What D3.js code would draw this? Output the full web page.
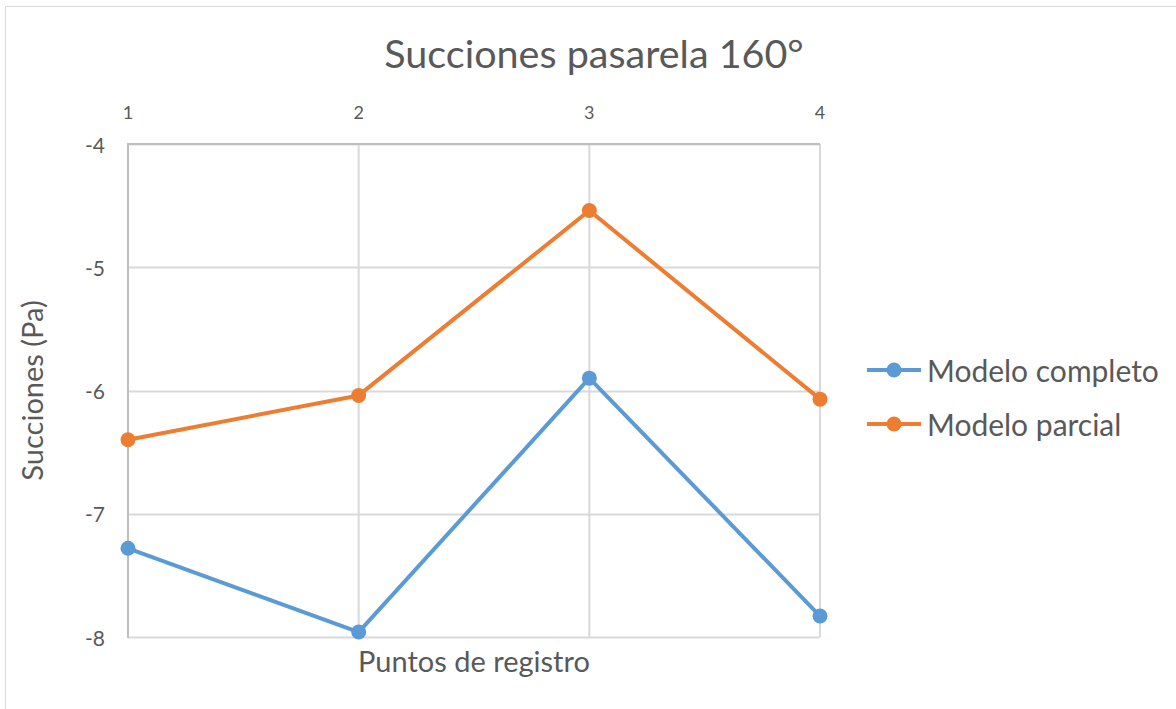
<!DOCTYPE html>
<html>
<head>
<meta charset="utf-8">
<script src="https://cdn.jsdelivr.net/npm/d3@7"></script>
<style>
  html, body { margin: 0; padding: 0; background: #fff; }
  svg { display: block; font-family: Lato, "Open Sans", sans-serif; }
</style>
</head>
<body>
<svg id="chart" width="1176" height="709"></svg>
<script>
// Measurement points along the walkway
const categories = ["1", "2", "3", "4"];
// Suction values (Pa) per model
const completo = [-7.28, -7.96, -5.90, -7.83];
const parcial = [-6.40, -6.04, -4.54, -6.07];
const yTicks = [-4, -5, -6, -7, -8];
const seriesNames = ["Modelo completo", "Modelo parcial"];
const seriesColors = ["#5b9bd5", "#ed7d31"];

const svg = d3.select("#chart");
const plot = { left: 128, right: 820, top: 144, bottom: 637 };
const textColor = "#595959";

// Chart area border
svg.append("rect")
  .attr("x", 5.5).attr("y", 6.5)
  .attr("width", 1200).attr("height", 720)
  .attr("fill", "none").attr("stroke", "#d9d9d9").attr("stroke-width", 1);

const x = d3.scalePoint().domain(categories).range([plot.left, plot.right]);
const y = d3.scaleLinear().domain([-4, -8]).range([plot.top, plot.bottom]);

// Horizontal gridlines
svg.append("g").selectAll("line").data(yTicks).join("line")
  .attr("x1", plot.left).attr("x2", plot.right)
  .attr("y1", d => Math.round(y(d)) + 0.5).attr("y2", d => Math.round(y(d)) + 0.5)
  .attr("stroke", "#d9d9d9").attr("stroke-width", 2);

// Vertical gridlines
svg.append("g").selectAll("line").data(categories.slice(1)).join("line")
  .attr("x1", d => x(d)).attr("x2", d => x(d))
  .attr("y1", plot.top).attr("y2", plot.bottom)
  .attr("stroke", "#d9d9d9").attr("stroke-width", 2);

// Left value axis line
svg.append("line")
  .attr("x1", plot.left).attr("x2", plot.left)
  .attr("y1", plot.top - 1).attr("y2", plot.bottom + 1)
  .attr("stroke", "#bfbfbf").attr("stroke-width", 2);
// Category axis line (crosses at -4, at the top)
svg.append("line")
  .attr("x1", plot.left).attr("x2", plot.right)
  .attr("y1", y(-4)).attr("y2", y(-4))
  .attr("stroke", "#bfbfbf").attr("stroke-width", 2);

// Y tick labels
svg.append("g").selectAll("text").data(yTicks).join("text")
  .attr("x", 105).attr("y", d => y(d))
  .attr("text-anchor", "end").attr("dominant-baseline", "central")
  .attr("font-size", 21).attr("fill", textColor)
  .text(d => d);

// X tick labels above the plot
svg.append("g").selectAll("text").data(categories).join("text")
  .attr("x", d => x(d)).attr("y", 112)
  .attr("text-anchor", "middle").attr("dominant-baseline", "central")
  .attr("font-size", 18).attr("fill", textColor)
  .text(d => d);

// Title
svg.append("text")
  .attr("x", 594).attr("y", 68)
  .attr("text-anchor", "middle")
  .attr("font-size", 39.5).attr("fill", textColor)
  .text("Succiones pasarela 160°");

// Axis titles
svg.append("text")
  .attr("x", (plot.left + plot.right) / 2).attr("y", 672)
  .attr("text-anchor", "middle")
  .attr("font-size", 29).attr("fill", textColor)
  .text("Puntos de registro");

svg.append("text")
  .attr("transform", `translate(43,${(plot.top + plot.bottom) / 2}) rotate(-90)`)
  .attr("text-anchor", "middle")
  .attr("font-size", 29).attr("fill", textColor)
  .text("Succiones (Pa)");

// Series lines and markers
const line = d3.line().x((d, i) => x(categories[i])).y(d => y(d));
[completo, parcial].forEach((vals, k) => {
  const g = svg.append("g");
  g.append("path")
    .attr("d", line(vals))
    .attr("fill", "none")
    .attr("stroke", seriesColors[k]).attr("stroke-width", 4)
    .attr("stroke-linejoin", "round").attr("stroke-linecap", "round");
  g.selectAll("circle").data(vals).join("circle")
    .attr("cx", (d, i) => x(categories[i])).attr("cy", d => y(d))
    .attr("r", 7.5).attr("fill", seriesColors[k]);
});

// Legend
const legend = svg.append("g");
seriesNames.forEach((name, k) => {
  const ly = 370 + k * 54;
  legend.append("line")
    .attr("x1", 867).attr("x2", 921).attr("y1", ly).attr("y2", ly)
    .attr("stroke", seriesColors[k]).attr("stroke-width", 4);
  legend.append("circle")
    .attr("cx", 894).attr("cy", ly).attr("r", 7.5).attr("fill", seriesColors[k]);
  legend.append("text")
    .attr("x", 927).attr("y", ly).attr("dominant-baseline", "central")
    .attr("font-size", 30).attr("fill", textColor)
    .text(name);
});
</script>
</body>
</html>
